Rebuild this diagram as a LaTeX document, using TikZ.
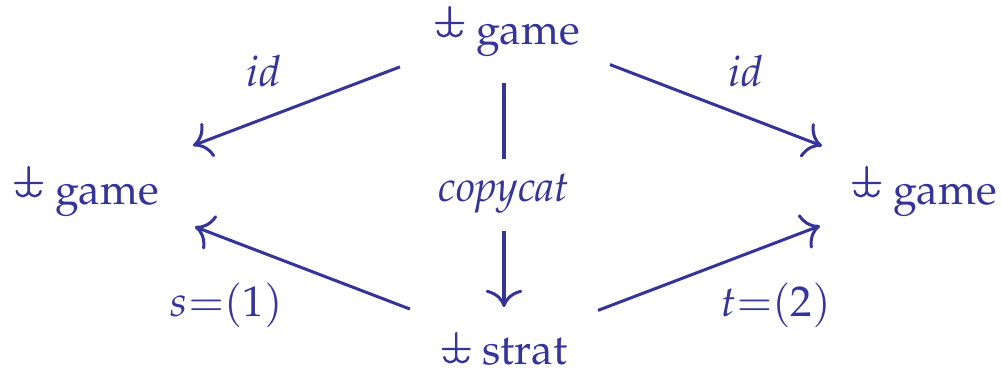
\documentclass[tikz,border=0pt]{standalone}
\usepackage[T1]{fontenc}
\usepackage{mathpazo}
\usetikzlibrary{arrows.meta}
\definecolor{ink}{RGB}{52,52,153}
\newdimen\px \px=0.2326pt
\tikzset{
  fsym/.pic={
    \draw[ink, line width=0.55pt, line cap=round]
      (0,-14) -- (27,-14)
      (13.5,-30) -- (13.5,-6)
      (13.5,-6) .. controls (12,1) and (3,1) .. (1.5,-6)
      (13.5,-6) .. controls (15,1) and (24,1) .. (25.5,-6);
  },
  obj/.style={anchor=base, text=ink, inner sep=0pt, text height=38.7\px, text depth=0pt},
  lab/.style={anchor=base, text=ink, inner sep=0pt},
  ln/.style={draw=ink, line width=0.7pt},
  arr/.style={ln, -{Computer Modern Rightarrow[length=4pt,width=8.5pt]}},
}
\newcommand{\symgap}{\hspace{39\px}}
\begin{document}
\begin{tikzpicture}[x=\px,y=-\px]
\useasboundingbox (0,0) rectangle (1001,376);
\node[obj] (top) at (508.5,45) {\symgap game};
\node[obj] (left) at (87.5,205) {\symgap game};
\node[obj] (right) at (925.5,205) {\symgap game};
\node[obj] (bot) at (505.5,365) {\symgap strat};
\path (top.base west) ++(0,-8) pic {fsym};
\path (left.base west) ++(0,-8) pic {fsym};
\path (right.base west) ++(0,-8) pic {fsym};
\path (bot.base west) ++(0,-2) pic {fsym};
\node[lab] (idl) at (264,87) {$id$};
\node[lab] (idr) at (746,87) {$id$};
\node[lab, text height=42\px, text depth=28\px] (cc) at (504,202) {\textit{copycat}};
\node[lab] (sl) at (226.5,317) {$s{=}(1)$};
\node[lab] (tl) at (776,317) {$t{=}(2)$};
\draw[arr, shorten <=116.1\px, shorten >=112.9\px] (top.center) -- (left.center);
\draw[arr, shorten <=108.7\px, shorten >=110.9\px] (top.center) -- (right.center);
\draw[arr, shorten <=102.3\px, shorten >=115.1\px] (bot.center) -- (left.center);
\draw[arr, shorten <=99.0\px, shorten >=112.9\px] (bot.center) -- (right.center);
\draw[ln, shorten <=57.35\px] (cc.north |- top.center) -- (cc.north);
\draw[arr, shorten >=38.65\px] (cc.south) -- (cc.south |- bot.center);
\end{tikzpicture}
\end{document}
